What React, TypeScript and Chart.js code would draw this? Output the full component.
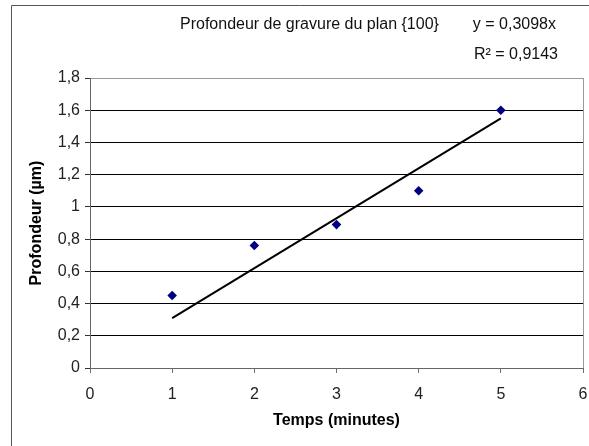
import { useEffect, useRef } from 'react';
import { Chart, registerables } from 'chart.js';

Chart.register(...registerables);

// Etching depth measurements vs. time
const TEMPS = [1, 2, 3, 4, 5];
const PROFONDEUR = [0.45, 0.76, 0.89, 1.1, 1.6];

// Linear fit through the origin
const TREND_SLOPE = 0.3098;
const TREND_R2 = 0.9143;
const TREND_RANGE = [1, 5];

const X_MIN = 0;
const X_MAX = 6;
const X_STEP = 1;
const Y_MIN = 0;
const Y_MAX = 1.8;
const Y_STEP = 0.2;

const TITLE = 'Profondeur de gravure du plan {100}';
const X_TITLE = 'Temps (minutes)';
const Y_TITLE = 'Profondeur (µm)';

const FONT = '"Liberation Sans", Arial, sans-serif';

const frFmt = (v: number) => String(Math.round(v * 10000) / 10000).replace('.', ',');

const decorations = {
  id: 'decorations',
  beforeDraw(chart: any) {
    const { ctx, width, height } = chart;
    ctx.save();
    ctx.fillStyle = '#ffffff';
    ctx.fillRect(0, 0, width, height);
    ctx.restore();
  },
  afterDraw(chart: any) {
    const { ctx, width, height } = chart;
    ctx.save();
    // outer frame
    ctx.strokeStyle = '#555555';
    ctx.lineWidth = 1;
    ctx.beginPath();
    ctx.moveTo(11.5, height);
    ctx.lineTo(11.5, 5.5);
    ctx.lineTo(width, 5.5);
    ctx.stroke();

    // title and trendline equation
    ctx.font = `16px ${FONT}`;
    ctx.fillStyle = '#111111';
    ctx.textBaseline = 'middle';
    ctx.textAlign = 'left';
    ctx.fillText(TITLE, 180, 25);
    ctx.textAlign = 'right';
    ctx.fillText(`y = ${frFmt(TREND_SLOPE)}x`, 556, 25);
    ctx.fillText(`R² = ${frFmt(TREND_R2)}`, 558, 55);
    ctx.restore();
  },
};

export default function App() {
  const canvasRef = useRef<HTMLCanvasElement | null>(null);

  useEffect(() => {
    const canvas = canvasRef.current;
    if (!canvas) return;

    const points = TEMPS.map((t, i) => ({ x: t, y: PROFONDEUR[i] }));
    const trend = TREND_RANGE.map((t) => ({ x: t, y: TREND_SLOPE * t }));

    const chart = new Chart(canvas, {
      type: 'scatter',
      data: {
        datasets: [
          {
            label: 'Profondeur',
            data: points,
            pointStyle: 'rectRot',
            pointRadius: 4.8,
            pointBackgroundColor: '#000080',
            pointBorderColor: '#000080',
            pointBorderWidth: 0,
            showLine: false,
            order: 1,
          },
          {
            label: 'Tendance',
            data: trend,
            showLine: true,
            borderColor: '#000000',
            borderWidth: 2,
            pointRadius: 0,
            fill: false,
            order: 2,
          },
        ],
      },
      options: {
        responsive: false,
        animation: false,
        devicePixelRatio: 1,
        layout: { padding: { left: 0, top: 78, right: 6, bottom: 0 } },
        plugins: {
          legend: { display: false },
          tooltip: { enabled: false },
          title: { display: false },
        },
        scales: {
          x: {
            type: 'linear',
            min: X_MIN,
            max: X_MAX,
            afterFit: (scale: any) => {
              scale.height = 78;
              scale.paddingLeft = 0;
              scale.paddingRight = 0;
            },
            ticks: {
              stepSize: X_STEP,
              color: '#222222',
              font: { family: FONT, size: 16 },
              padding: 12,
              callback: (v: any) => frFmt(Number(v)),
            },
            grid: {
              color: (c: any) => (c.tick && c.tick.value === X_MAX ? '#9a9a9a' : 'rgba(0,0,0,0)'),
              tickColor: '#707070',
              tickLength: 5,
              lineWidth: 1,
            },
            border: { display: true, color: '#666666', width: 1 },
            title: {
              display: true,
              text: X_TITLE,
              color: '#000000',
              font: { family: FONT, size: 16, weight: 'bold' },
              padding: { top: 0, bottom: 16 },
            },
          },
          y: {
            type: 'linear',
            min: Y_MIN,
            max: Y_MAX,
            afterFit: (scale: any) => {
              scale.width = 90;
            },
            ticks: {
              stepSize: Y_STEP,
              color: '#222222',
              font: { family: FONT, size: 16 },
              padding: 5,
              callback: (v: any) => frFmt(Number(v)),
            },
            grid: {
              color: (c: any) =>
                c.tick && Math.abs(c.tick.value - Y_MAX) < 1e-6 ? '#9a9a9a' : '#000000',
              tickColor: '#333333',
              tickLength: 5,
              lineWidth: 1,
            },
            border: { display: true, color: '#666666', width: 1 },
            title: {
              display: true,
              text: Y_TITLE,
              color: '#000000',
              font: { family: FONT, size: 16, weight: 'bold' },
              padding: { top: 27, bottom: 0 },
            },
          },
        },
      },
      plugins: [decorations],
    });

    return () => {
      chart.destroy();
    };
  }, []);

  return (
    <div
      style={{
        position: 'fixed',
        left: 0,
        top: 0,
        width: 589,
        height: 446,
        background: '#ffffff',
      }}
    >
      <canvas ref={canvasRef} width={589} height={446} style={{ display: 'block' }} />
    </div>
  );
}
